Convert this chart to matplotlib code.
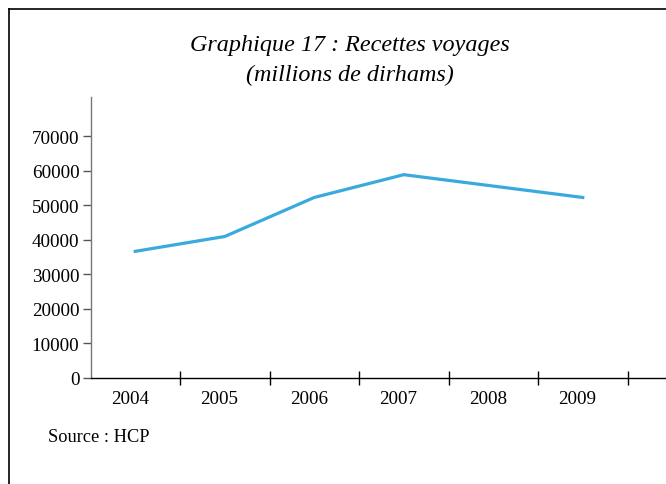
import matplotlib
matplotlib.use('Agg')
import matplotlib.pyplot as plt
from matplotlib.lines import Line2D

# Data
years = ['2004', '2005', '2006', '2007', '2008', '2009']
recettes = [36600, 40900, 52200, 58800, 55500, 52200]
y_ticks = [0, 10000, 20000, 30000, 40000, 50000, 60000, 70000]

plt.rcParams['font.family'] = ['Liberation Serif', 'DejaVu Serif']

W, H = 666, 485
fig = plt.figure(figsize=(W / 100, H / 100), dpi=100)

# axes placed in pixel terms
x0, x1 = 90.5, 666
y_bot, y_top = 378.7, 98
ax = fig.add_axes([x0 / W, (H - y_bot) / H, (x1 - x0) / W, (y_bot - y_top) / H])

xs = list(range(len(years)))
ax.plot(xs, recettes, color='#3aaade', lw=2.3, solid_joinstyle='miter')

ax.set_xlim(-0.5, -0.5 + (x1 - x0) / 89.5)
ax.set_ylim(0, 81300)

for s in ['top', 'right']:
    ax.spines[s].set_visible(False)
ax.spines['left'].set_color('#777777')
ax.spines['bottom'].set_color('black')
ax.spines['left'].set_linewidth(1.0)
ax.spines['bottom'].set_linewidth(1.0)

ax.set_yticks(y_ticks)
ax.set_yticklabels([str(v) for v in y_ticks], fontsize=13.8)
ax.tick_params(axis='y', direction='out', length=6, width=1, color='#555555', pad=2)

# category boundaries as major ticks, labels on minor ticks
ax.set_xticks([i + 0.5 for i in range(len(years))])
ax.set_xticklabels([])
ax.tick_params(axis='x', which='major', direction='inout', length=10, width=1, color='black')
ax.set_xticks([i - 0.06 for i in xs], minor=True)
ax.set_xticklabels(years, minor=True, fontsize=13.8)
ax.tick_params(axis='x', which='minor', length=0, pad=9)

fig.text(350 / W, 1 - 45.5 / H, 'Graphique 17 : Recettes voyages', ha='center', va='center',
         fontsize=17.4, style='italic')
fig.text(350 / W, 1 - 75.5 / H, '(millions de dirhams)', ha='center', va='center',
         fontsize=17.4, style='italic')
fig.text(48 / W, 1 - 438 / H, 'Source : HCP', ha='left', va='center', fontsize=13.2)

# outer frame (left and top edges only visible)
fig.add_artist(Line2D([8.5 / W, 8.5 / W], [0, 1 - 9.5 / H], color='black', lw=1.2,
                      transform=fig.transFigure))
fig.add_artist(Line2D([8.5 / W, 1], [1 - 9.5 / H, 1 - 9.5 / H], color='black', lw=1.2,
                      transform=fig.transFigure))

fig.savefig('out.png', dpi=100)
